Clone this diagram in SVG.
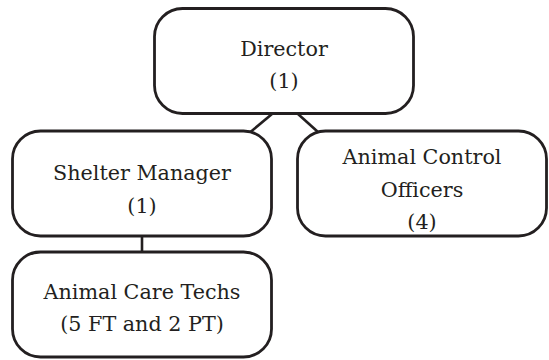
<svg xmlns="http://www.w3.org/2000/svg" width="549" height="360" viewBox="0 0 549 360">
<style>
.box{fill:#fff;stroke:#231f20;stroke-width:2.8}
.conn{stroke:#231f20;stroke-width:2.6;fill:none}
.t{font-family:'DejaVu Serif','Liberation Serif',serif;font-size:20.7px;fill:#231f20;text-anchor:middle}
</style>
<rect width="549" height="360" fill="#fff"/>
<g id="connectors">
<line class="conn" x1="272" y1="114" x2="248" y2="134"/>
<line class="conn" x1="298" y1="114" x2="318" y2="132"/>
<line class="conn" x1="142" y1="236" x2="142" y2="252"/>
</g>
<g id="director">
<rect class="box" x="154.5" y="8.5" width="259" height="105" rx="28"/>
<text class="t" x="284" y="56">Director</text>
<text class="t" x="284" y="88">(1)</text>
</g>
<g id="shelter-manager">
<rect class="box" x="12.5" y="131" width="259" height="105" rx="28"/>
<text class="t" x="142" y="180">Shelter Manager</text>
<text class="t" x="142" y="213">(1)</text>
</g>
<g id="animal-control">
<rect class="box" x="297.5" y="131" width="249" height="105" rx="28"/>
<text class="t" x="422" y="164">Animal Control</text>
<text class="t" x="422" y="197">Officers</text>
<text class="t" x="422" y="229">(4)</text>
</g>
<g id="animal-care">
<rect class="box" x="12.5" y="252" width="259" height="105" rx="28"/>
<text class="t" x="142" y="299">Animal Care Techs</text>
<text class="t" x="142" y="331">(5 FT and 2 PT)</text>
</g>
</svg>
